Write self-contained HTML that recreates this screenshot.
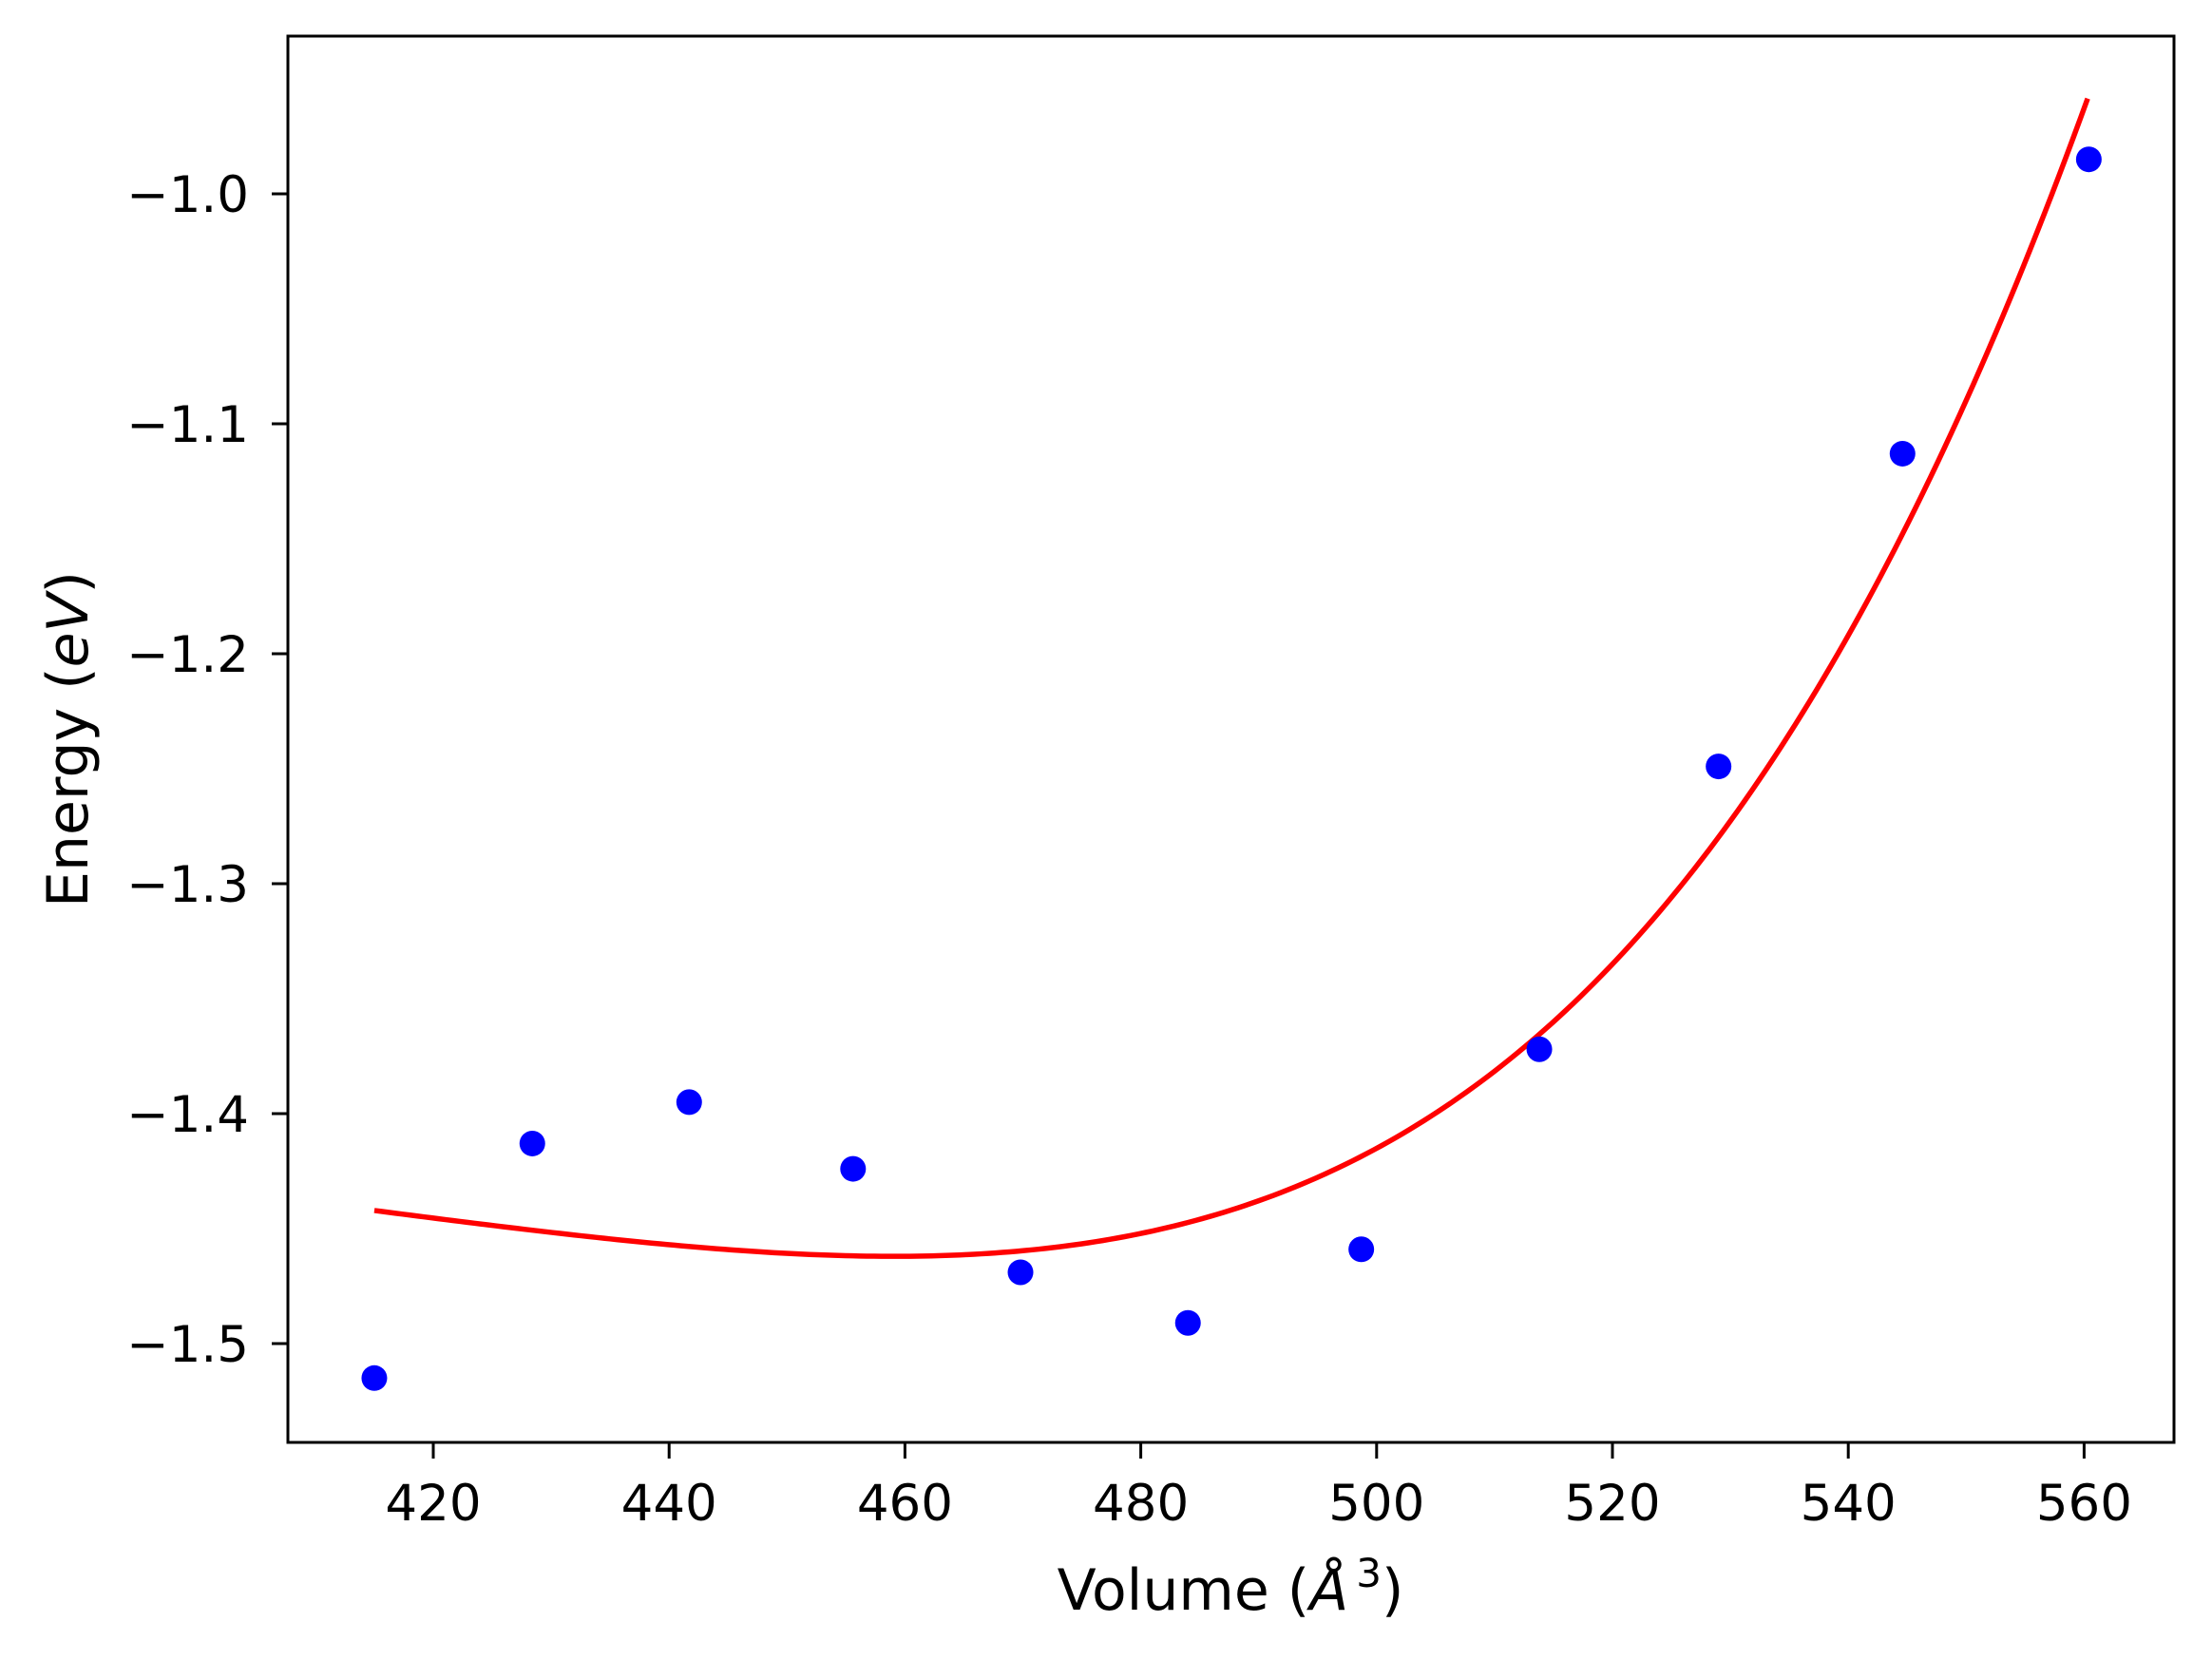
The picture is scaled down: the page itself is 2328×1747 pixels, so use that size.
<!DOCTYPE html>
<html><head><meta charset="utf-8"><style>
html,body{margin:0;padding:0;background:#fff;}
svg{display:block;font-family:"DejaVu Sans","Liberation Sans",sans-serif;}
</style></head><body>
<svg id="chart" width="2328" height="1747" viewBox="0 0 2328 1747" xmlns="http://www.w3.org/2000/svg">
<rect x="0" y="0" width="2328" height="1747" fill="#fff"/>
<g id="marks"></g>
<g id="axes"></g>
</svg>
<script>
const volumes = [415.0, 428.4, 441.7, 455.6, 469.8, 484.0, 498.7, 513.8, 529.0, 544.6, 560.4];
const energies = [-1.515, -1.413, -1.395, -1.424, -1.469, -1.491, -1.459, -1.372, -1.249, -1.113, -0.985];
const fitVolumes = [415, 430, 445, 457, 470, 480, 490, 500, 510, 516.2, 528.9, 537.6, 545.8, 553.8, 560.3];
const fitEnergies = [-1.442, -1.452, -1.459, -1.462, -1.459, -1.452, -1.438, -1.416, -1.383, -1.354, -1.277, -1.213, -1.139, -1.044, -0.958];
const xTicks = [420, 440, 460, 480, 500, 520, 540, 560];
const yTicks = [-1.0, -1.1, -1.2, -1.3, -1.4, -1.5];
const yTickLabels = ["\u22121.0", "\u22121.1", "\u22121.2", "\u22121.3", "\u22121.4", "\u22121.5"];

const L = 303, R = 2288, T = 38, B = 1518;
function xs(v){ return 456 + (v - 420) * 12.41; }
function ys(e){ return 204 + (-1.0 - e) * 2420; }
const NS = "http://www.w3.org/2000/svg";
function mk(tag, attrs, parent){ const el = document.createElementNS(NS, tag); for (const k in attrs) el.setAttribute(k, attrs[k]); parent.appendChild(el); return el; }
const marks = document.getElementById('marks');
const axes = document.getElementById('axes');

function polyFit(X, Y, deg){
  const n = X.length, m = deg+1, x0 = (X[0]+X[n-1])/2, s = (X[n-1]-X[0])/2 || 1;
  const A = [], b = [];
  for (let r=0;r<m;r++){ A.push(new Array(m).fill(0)); b.push(0); }
  for (let i=0;i<n;i++){
    const t = (X[i]-x0)/s, p = [];
    for (let k=0;k<m;k++) p.push(Math.pow(t,k));
    for (let r=0;r<m;r++){ b[r]+=p[r]*Y[i]; for (let c=0;c<m;c++) A[r][c]+=p[r]*p[c]; }
  }
  for (let k=0;k<m;k++){
    for (let r=k+1;r<m;r++){ const f=A[r][k]/A[k][k]; for (let c=k;c<m;c++) A[r][c]-=f*A[k][c]; b[r]-=f*b[k]; }
  }
  const co=new Array(m).fill(0);
  for (let r=m-1;r>=0;r--){ let sum=b[r]; for (let c=r+1;c<m;c++) sum-=A[r][c]*co[c]; co[r]=sum/A[r][r]; }
  return v => { const t=(v-x0)/s; let y=0; for (let k=m-1;k>=0;k--) y=y*t+co[k]; return y; };
}
const fn = polyFit(fitVolumes, fitEnergies, 4);
const v0 = fitVolumes[0], v1 = fitVolumes[fitVolumes.length-1];
let d = "";
for (let i=0;i<=240;i++){
  const v = v0 + (v1-v0)*i/240;
  d += (i? " L":"M") + xs(v).toFixed(2) + "," + ys(fn(v)).toFixed(2);
}
const fit = mk('path', {d: d, fill: 'none', stroke: '#ff0000', 'stroke-width': 5.5, 'stroke-linejoin': 'round'}, marks);



volumes.forEach((v,i)=>{
  const c = mk('circle', {cx: xs(v), cy: ys(energies[i]), r: 13.5, fill: '#0000ff'}, marks);
  
  
});

const frame = mk('rect', {x: L, y: T, width: R-L, height: B-T, fill: 'none', stroke: '#000', 'stroke-width': 3}, axes);



xTicks.forEach(v=>{
  const x = xs(v);
  const t = mk('line', {x1: x, y1: B, x2: x, y2: B+17, stroke: '#000', 'stroke-width': 3}, axes);
  
  
  const lb = mk('text', {x: x, y: 1600, 'font-size': 53, 'text-anchor': 'middle', fill: '#000'}, axes);
  lb.textContent = String(v);
  
  
});
yTicks.forEach((e,i)=>{
  const y = ys(e);
  const t = mk('line', {x1: L-17, y1: y, x2: L, y2: y, stroke: '#000', 'stroke-width': 3}, axes);
  
  
  const lb = mk('text', {x: 262, y: y+19, 'font-size': 53, 'text-anchor': 'end', fill: '#000'}, axes);
  lb.textContent = yTickLabels[i];
  
  
});

const xl = mk('text', {x: 1295, y: 1694, 'font-size': 60, 'text-anchor': 'middle', fill: '#000'}, axes);
xl.innerHTML = 'Volume (<tspan font-style="italic">Å</tspan><tspan font-size="42" dx="8" dy="-24">3</tspan><tspan dy="24">)</tspan>';



const yl = mk('text', {x: 0, y: 0, 'font-size': 60, 'text-anchor': 'middle', fill: '#000', transform: 'translate(92,778) rotate(-90)'}, axes);
yl.innerHTML = 'Energy (<tspan font-style="italic">eV</tspan>)';


</script>
</body></html>
